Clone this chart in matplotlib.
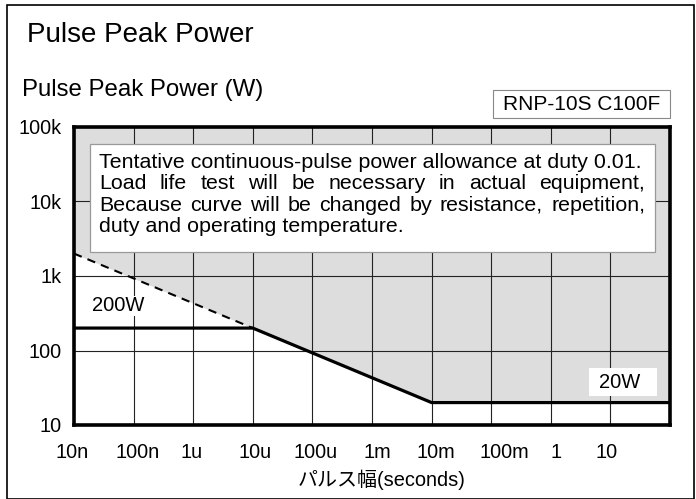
import matplotlib
matplotlib.use("Agg")
import matplotlib.pyplot as plt
from matplotlib.patches import Rectangle
from matplotlib.transforms import ScaledTranslation
import numpy as np

plt.rcParams['font.family'] = ['Liberation Sans', 'Noto Sans CJK JP', 'DejaVu Sans']

# ---- data ----
x_ticks = [1e-8, 1e-7, 1e-6, 1e-5, 1e-4, 1e-3, 1e-2, 1e-1, 1, 10]
x_tick_labels = ["10n", "100n", "1u", "10u", "100u", "1m", "10m", "100m", "1", "10"]
y_ticks = [10, 100, 1000, 10000, 100000]
y_tick_labels = ["10", "100", "1k", "10k", "100k"]

curve_x = [1e-8, 1e-5, 1e-2, 1e2]
curve_y = [200, 200, 20, 20]
dash_x = [1e-8, 1e-5]
dash_y = [2000, 200]
limit_x = [1e-8, 1e-2, 1e2]
limit_y = [2000, 20, 20]

note_lines = [
    "Tentative continuous-pulse power allowance at duty 0.01.",
    "Load life test will be necessary in actual equipment,",
    "Because curve will be changed by resistance, repetition,",
    "duty and operating temperature.",
]

W, H = 696, 499
fig = plt.figure(figsize=(W / 100, H / 100), dpi=100)

def fx(px):
    return px / W

def fy(py):
    return 1 - py / H

# outer frame
fig.patches.append(Rectangle((fx(7), fy(498.5)), fx(694) - fx(7), fy(5) - fy(498.5),
                             transform=fig.transFigure, fill=False, lw=1.2, ec='black'))

ax_l, ax_r, ax_t, ax_b = 74, 670, 127, 425
ax = fig.add_axes([fx(ax_l), fy(ax_b), fx(ax_r - ax_l), (ax_b - ax_t) / H])
ax.set_xscale('log')
ax.set_yscale('log')
ax.set_xlim(1e-8, 1e2)
ax.set_ylim(10, 1e5)

ax.fill_between(limit_x, limit_y, 1e5, color='#dddddd', lw=0, zorder=1)
ax.set_xticks(x_ticks)
ax.set_xticklabels(x_tick_labels)
ax.set_yticks(y_ticks)
ax.set_yticklabels(y_tick_labels)
ax.minorticks_off()
ax.tick_params(length=0, labelsize=14.3)
ax.tick_params(axis='x', pad=13)
ax.tick_params(axis='y', pad=9)
# small horizontal offsets of the x tick labels as in the reference (pixels)
label_dx = [-2, 4, -2, 2, 3, 5, 4, 13, 5, -4]
for lab, dx in zip(ax.get_xticklabels(), label_dx):
    lab.set_transform(lab.get_transform() + ScaledTranslation(dx / 100, 0, fig.dpi_scale_trans))
ax.grid(True, color='#222222', lw=0.8, zorder=2)
ax.set_axisbelow(False)
for ln in ax.get_xgridlines() + ax.get_ygridlines():
    ln.set_zorder(2)

ax.plot(curve_x, curve_y, color='black', lw=2.3, zorder=5, solid_joinstyle='miter')
ax.plot(dash_x, dash_y, color='black', lw=1.5, ls=(0, (4, 3)), zorder=5)
for s in ax.spines.values():
    s.set_linewidth(2.6)
    s.set_zorder(10)

fig.text(fx(381.5), fy(480), "パルス幅(seconds)", fontsize=14.4, ha='center', va='center')

# titles
fig.text(fx(27), fy(35), "Pulse Peak Power", fontsize=20, ha='left', va='center')
fig.text(fx(22), fy(90), "Pulse Peak Power (W)", fontsize=17.3, ha='left', va='center')

# model box
fig.patches.append(Rectangle((fx(493), fy(118)), fx(670) - fx(493), (118 - 90) / H,
                             transform=fig.transFigure, fc='white', ec='#888888', lw=0.8))
fig.text(fx(582), fy(104), "RNP-10S C100F", fontsize=15, ha='center', va='center')

# note box
fig.patches.append(Rectangle((fx(90), fy(252)), fx(655) - fx(90), (252 - 144) / H,
                             transform=fig.transFigure, fc='white', ec='#999999', lw=0.9,
                             zorder=6))
fig.canvas.draw()
renderer = fig.canvas.get_renderer()
note_fs = 15.4
tx_l, tx_r = 99, 645
line_y = [162, 183.5, 205, 226.5]
for i, (line, yy) in enumerate(zip(note_lines, line_y)):
    if i in (1, 2):
        words = line.split()
        widths = []
        for w in words:
            t = fig.text(0, 0, w, fontsize=note_fs)
            widths.append(t.get_window_extent(renderer).width)
            t.remove()
        gap = (tx_r - tx_l - sum(widths)) / (len(words) - 1)
        xpos = tx_l
        for w, wd in zip(words, widths):
            fig.text(fx(xpos), fy(yy), w, fontsize=note_fs, ha='left', va='center', zorder=7)
            xpos += wd + gap
    else:
        fig.text(fx(tx_l), fy(yy), line, fontsize=note_fs, ha='left', va='center', zorder=7)

# value labels
ax.text(2.0e-8, 400, "200W", fontsize=14.5, ha='left', va='center', zorder=8,
        bbox=dict(fc='white', ec='none', pad=0.5))
fig.patches.append(Rectangle((fx(589), fy(396)), fx(657) - fx(589), (396 - 368) / H,
                             transform=fig.transFigure, fc='white', ec='none', zorder=8))
fig.text(fx(620), fy(382), "20W", fontsize=14.5, ha='center', va='center', zorder=9)

fig.savefig("out.png", dpi=100)
